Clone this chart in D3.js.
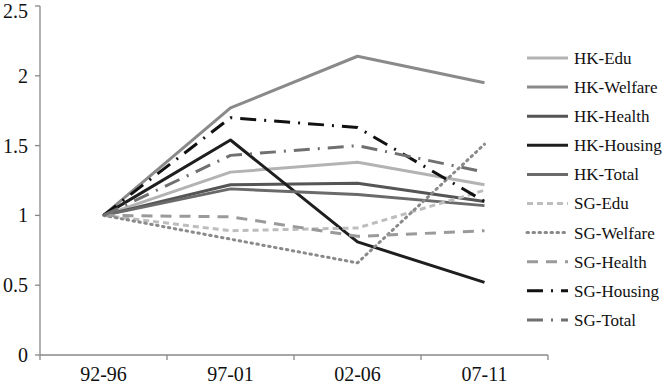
<!DOCTYPE html>
<html><head><meta charset="utf-8">
<script src="https://cdn.jsdelivr.net/npm/d3@7"></script>
<style>body{margin:0;background:#fff}svg{display:block}</style>
</head><body><svg id="c" width="663" height="385"></svg>
<script>
const categories = ["92-96","97-01","02-06","07-11"];
const yTicks = [0,0.5,1,1.5,2,2.5];
const seriesNames = ["HK-Edu","HK-Welfare","HK-Health","HK-Housing","HK-Total","SG-Edu","SG-Welfare","SG-Health","SG-Housing","SG-Total"];
const hkEdu = [1,1.31,1.38,1.22];
const hkWelfare = [1,1.77,2.14,1.95];
const hkHealth = [1,1.22,1.23,1.10];
const hkHousing = [1,1.54,0.81,0.52];
const hkTotal = [1,1.19,1.15,1.07];
const sgEdu = [1,0.89,0.91,1.18];
const sgWelfare = [1,0.83,0.66,1.51];
const sgHealth = [1,0.99,0.85,0.89];
const sgHousing = [1,1.70,1.63,1.10];
const sgTotal = [1,1.43,1.50,1.31];
const seriesValues = [hkEdu,hkWelfare,hkHealth,hkHousing,hkTotal,sgEdu,sgWelfare,sgHealth,sgHousing,sgTotal];

const styles = [
  {c:"#b3b3b3",d:null},
  {c:"#8a8a8a",d:null},
  {c:"#555555",d:null},
  {c:"#1e1e1e",d:null},
  {c:"#6a6a6a",d:null},
  {c:"#bdbdbd",d:"6,4"},
  {c:"#8a8a8a",d:"1.5,4.5",cap:"round"},
  {c:"#9a9a9a",d:"11,8"},
  {c:"#111111",d:"16,8,2,8"},
  {c:"#707070",d:"16,8,2,8"}
];

const svg = d3.select("#c");
const mLeft=40, mRight=548, mTop=6, mBottom=355;
const x = d3.scaleBand().domain(categories).range([mLeft,mRight]);
const y = d3.scaleLinear().domain([0,2.5]).range([mBottom,mTop]);
const font = "'Liberation Serif','Times New Roman',serif";

// axes
const ga = svg.append("g");
ga.append("line").attr("x1",mLeft).attr("x2",mLeft).attr("y1",mTop).attr("y2",mBottom).attr("stroke","#888").attr("stroke-width",1.3);
ga.append("line").attr("x1",mLeft).attr("x2",mRight).attr("y1",mBottom).attr("y2",mBottom).attr("stroke","#888").attr("stroke-width",1.3);
yTicks.forEach(t=>{
  ga.append("line").attr("x1",mLeft-5).attr("x2",mLeft).attr("y1",y(t)).attr("y2",y(t)).attr("stroke","#888").attr("stroke-width",1.3);
  ga.append("text").attr("x",28).attr("y",Math.max(y(t),11)).attr("dy","0.35em").attr("text-anchor","end")
    .attr("font-family",font).attr("font-size",20).attr("fill","#111").text(d3.format("")(t));
});
categories.forEach((c,i)=>{
  const bx = x(c);
  ga.append("line").attr("x1",bx).attr("x2",bx).attr("y1",mBottom).attr("y2",mBottom+5).attr("stroke","#888").attr("stroke-width",1.3);
  ga.append("text").attr("x",bx+x.bandwidth()/2).attr("y",381).attr("text-anchor","middle")
    .attr("font-family",font).attr("font-size",20).attr("fill","#111").text(c);
});
ga.append("line").attr("x1",mRight).attr("x2",mRight).attr("y1",mBottom).attr("y2",mBottom+5).attr("stroke","#888").attr("stroke-width",1.3);

// lines
const line = d3.line().x((d,i)=>x(categories[i])+x.bandwidth()/2).y(d=>y(d));
seriesValues.forEach((vals,k)=>{
  const s = styles[k];
  svg.append("path").attr("d",line(vals)).attr("fill","none").attr("stroke",s.c).attr("stroke-width",3)
    .attr("stroke-dasharray",s.d).attr("stroke-linecap",s.cap||"butt").attr("stroke-linejoin","round");
});

// legend
const lg = svg.append("g");
seriesNames.forEach((n,k)=>{
  const ly = 58 + k*29.1;
  const s = styles[k];
  lg.append("line").attr("x1",527).attr("x2",568).attr("y1",ly).attr("y2",ly).attr("stroke",s.c).attr("stroke-width",3)
    .attr("stroke-dasharray",s.d).attr("stroke-linecap",s.cap||"butt");
  lg.append("text").attr("x",574).attr("y",ly).attr("dy","0.35em").attr("font-family",font).attr("font-size",17).attr("fill","#111").text(n);
});
</script></body></html>
